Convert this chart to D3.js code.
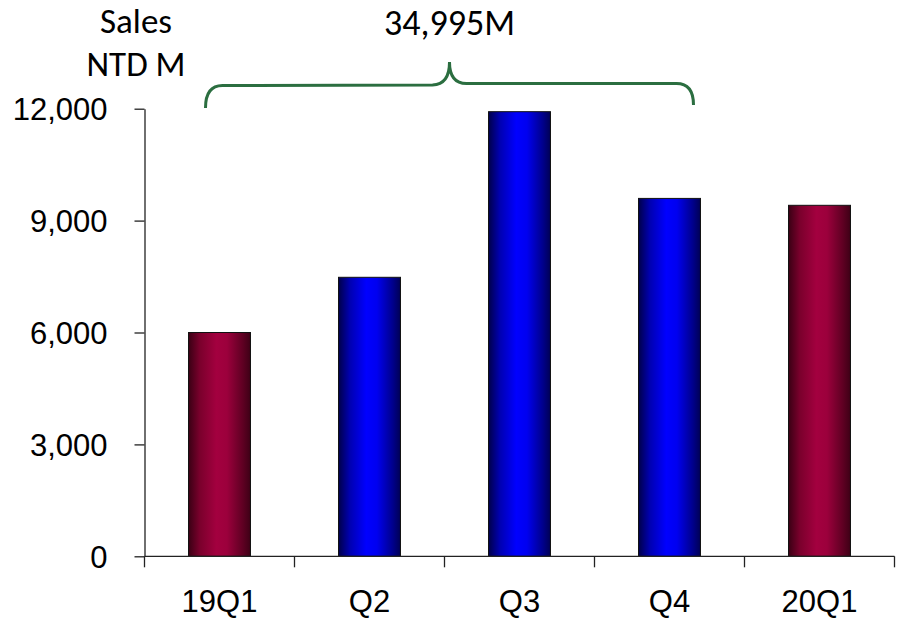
<!DOCTYPE html>
<html>
<head>
<meta charset="utf-8">
<script src="https://cdn.jsdelivr.net/npm/d3@7/dist/d3.min.js"></script>
<style>
  html, body { margin: 0; padding: 0; background: #fff; }
  svg { display: block; }
</style>
</head>
<body>
<svg id="chart" width="900" height="621"></svg>
<script>
// Quarterly sales, NTD millions
const categories = ["19Q1", "Q2", "Q3", "Q4", "20Q1"];
const sales = [6000, 7480, 11920, 9595, 9410];
const barKind = ["year", "quarter", "quarter", "quarter", "year"];
const yTicks = [0, 3000, 6000, 9000, 12000];
const unitLines = ["Sales", "NTD M"];
const braceLabel = "34,995M";
const braceFrom = "19Q1";
const braceTo = "Q4";

const svg = d3.select("#chart");
const axisFont = "'Liberation Sans', Arial, sans-serif";
const noteFont = "Carlito, Calibri, Lato, 'Open Sans', sans-serif";

const plotLeft = 144.5, plotRight = 894.5, plotBottom = 556.3, plotTop = 108.7;

const x = d3.scaleBand()
  .domain(categories)
  .range([plotLeft, plotRight])
  .paddingInner(0.587)
  .paddingOuter(0.2935);

const y = d3.scaleLinear()
  .domain([0, 12000])
  .range([plotBottom, plotTop]);

// Bar gradients: dark edges, bright core
const defs = svg.append("defs");
const palettes = {
  quarter: [["0%", "#00004a"], ["18%", "#0000b0"], ["45%", "#0000ff"], ["62%", "#0000f0"], ["88%", "#00008a"], ["100%", "#000055"]],
  year: [["0%", "#3a0014"], ["18%", "#7a002c"], ["45%", "#a3003f"], ["62%", "#9c003c"], ["88%", "#5e0022"], ["100%", "#3e0016"]]
};
Object.entries(palettes).forEach(([key, stops]) => {
  const g = defs.append("linearGradient")
    .attr("id", "grad-" + key)
    .attr("x1", "0%").attr("x2", "100%").attr("y1", "0%").attr("y2", "0%");
  stops.forEach(([o, c]) => g.append("stop").attr("offset", o).attr("stop-color", c));
});

// Bars
svg.append("g").selectAll("rect")
  .data(categories)
  .join("rect")
  .attr("x", d => x(d))
  .attr("y", (d, i) => y(sales[i]))
  .attr("width", x.bandwidth())
  .attr("height", (d, i) => plotBottom - y(sales[i]))
  .attr("fill", (d, i) => `url(#grad-${barKind[i]})`)
  .attr("stroke", "#111")
  .attr("stroke-width", 1);

// Y axis
const yAxis = d3.axisLeft(y)
  .tickValues(yTicks)
  .tickSize(10)
  .tickSizeOuter(0)
  .tickPadding(27)
  .tickFormat(d3.format(","));
const gy = svg.append("g")
  .attr("transform", `translate(${plotLeft},0)`)
  .call(yAxis);
gy.attr("font-family", null).attr("font-size", null);
gy.select(".domain").attr("stroke", "#222").attr("stroke-width", 1.3);
gy.selectAll(".tick line").attr("stroke", "#222").attr("stroke-width", 1.3);
gy.selectAll(".tick text")
  .style("font-family", axisFont)
  .style("font-size", "31px")
  .attr("fill", "#000")
  .attr("dy", "0.36em");

// X axis: baseline, boundary ticks and centered labels
const step = x.step();
const boundaries = d3.range(categories.length + 1).map(i => plotLeft + i * step);
const gx = svg.append("g");
gx.append("line")
  .attr("x1", plotLeft).attr("x2", plotRight)
  .attr("y1", plotBottom).attr("y2", plotBottom)
  .attr("stroke", "#222").attr("stroke-width", 1.3);
gx.selectAll("line.tk")
  .data(boundaries)
  .join("line")
  .attr("class", "tk")
  .attr("x1", d => d).attr("x2", d => d)
  .attr("y1", plotBottom).attr("y2", plotBottom + 11)
  .attr("stroke", "#222").attr("stroke-width", 1.3);
gx.selectAll("text")
  .data(categories)
  .join("text")
  .attr("x", d => x(d) + x.bandwidth() / 2)
  .attr("y", 612)
  .attr("text-anchor", "middle")
  .style("font-family", axisFont)
  .style("font-size", "31px")
  .attr("fill", "#000")
  .text(d => d);

// Unit caption
svg.append("g").selectAll("text")
  .data(unitLines)
  .join("text")
  .attr("x", 136)
  .attr("y", (d, i) => 33 + i * 43)
  .attr("text-anchor", "middle")
  .style("font-family", noteFont)
  .style("font-size", "35px")
  .attr("fill", "#000")
  .text(d => d);

// Curly brace spanning the first four quarters
const bx0 = x(braceFrom) + x.bandwidth() / 2 - 14;
const bx1 = x(braceTo) + x.bandwidth() / 2 + 24;
const bmid = (bx0 + bx1) / 2;
const yEnd0 = 108, yEnd1 = 105;
const yBar0 = 85.5, yBar1 = 83.5;
const yTip = 62;
const r = 17;
const brace = d3.path();
brace.moveTo(bx0, yEnd0);
brace.quadraticCurveTo(bx0, yBar0, bx0 + r, yBar0);
brace.lineTo(bmid - r, yBar0 - 0.5);
brace.quadraticCurveTo(bmid, yBar0 - 1, bmid, yTip);
brace.quadraticCurveTo(bmid, yBar1, bmid + r, yBar1);
brace.lineTo(bx1 - r, yBar1);
brace.quadraticCurveTo(bx1, yBar1, bx1, yEnd1);
svg.append("path")
  .attr("d", brace.toString())
  .attr("fill", "none")
  .attr("stroke", "#2b6e40")
  .attr("stroke-width", 3)
  .attr("stroke-linecap", "butt");

svg.append("text")
  .attr("x", bmid)
  .attr("y", 35)
  .attr("text-anchor", "middle")
  .style("font-family", noteFont)
  .style("font-size", "36px")
  .attr("fill", "#000")
  .text(braceLabel);
</script>
</body>
</html>
